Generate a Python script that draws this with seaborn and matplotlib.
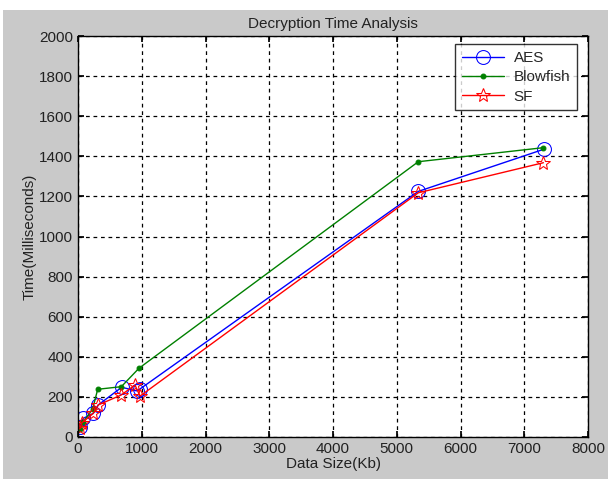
import matplotlib
matplotlib.use('Agg')
import matplotlib.pyplot as plt
from matplotlib.patches import Rectangle
import seaborn as sns
import pandas as pd

# values
aes_size = [31, 83, 240, 318, 685, 920, 975, 5338, 7315]
aes_time = [51, 93, 118, 160, 248, 230, 240, 1225, 1436]

blowfish_size = [31, 83, 230, 309, 680, 957, 5338, 7300]
blowfish_time = [40, 75, 140, 238, 251, 343, 1373, 1443]

sf_size = [31, 58, 240, 318, 675, 894, 973, 5338, 7300]
sf_time = [45, 70, 118, 160, 209, 259, 204, 1218, 1368]

x_ticks = [0, 1000, 2000, 3000, 4000, 5000, 6000, 7000, 8000]
y_ticks = [0, 200, 400, 600, 800, 1000, 1200, 1400, 1600, 1800, 2000]

sns.set_theme(style="white")
plt.rcParams['font.family'] = ['Liberation Sans', 'DejaVu Sans']

fig = plt.figure(figsize=(6.08, 4.79), dpi=100)
fig.patch.set_facecolor('white')
fig.patches.append(Rectangle((3 / 608, 0), 605 / 608, 469 / 479,
                             transform=fig.transFigure, facecolor='#c9c9c9',
                             edgecolor='none', zorder=-10))
ax = fig.add_axes([78 / 608, 42 / 479, 510 / 608, 401 / 479])
ax.set_facecolor('white')

series = [
    ('AES', aes_size, aes_time, 'blue', dict(marker='o', markersize=10,
                                            markerfacecolor='none',
                                            markeredgecolor='blue')),
    ('Blowfish', blowfish_size, blowfish_time, '#008000', dict(marker='.', markersize=7,
                                                              markeredgecolor='#008000')),
    ('SF', sf_size, sf_time, 'red', dict(marker='*', markersize=10,
                                        markerfacecolor='none',
                                        markeredgecolor='red')),
]
for name, xs, ys, color, mk in series:
    df = pd.DataFrame({'Data Size': xs, 'Time': ys})
    sns.lineplot(data=df, x='Data Size', y='Time', sort=False, estimator=None,
                 color=color, linewidth=1, label=name, ax=ax, **mk)

ax.set_xlim(0, 8000)
ax.set_ylim(0, 2000)
ax.set_xticks(x_ticks)
ax.set_yticks(y_ticks)
ax.grid(True, color='black', linestyle=(0, (3, 3)), linewidth=0.9)
for s in ax.spines.values():
    s.set_color('black')
    s.set_linewidth(1)
ax.tick_params(direction='in', length=4, color='black', labelsize=11,
               labelcolor='#222222', top=True, right=True, bottom=True, left=True)

ax.set_title('Decryption Time Analysis', fontsize=11, color='#222222', pad=6)
ax.set_xlabel('Data Size(Kb)', fontsize=11, color='#222222', labelpad=1)
ax.set_ylabel('Time(Milliseconds)', fontsize=11, color='#222222', labelpad=2)

leg = ax.legend(loc='upper right', bbox_to_anchor=(1 - 11 / 510, 1 - 8 / 401),
                borderaxespad=0, fontsize=11, frameon=True, fancybox=False,
                handlelength=2.8, borderpad=0.45, labelspacing=0.35,
                handletextpad=0.6)
leg.get_frame().set_edgecolor('black')
leg.get_frame().set_linewidth(1)

fig.savefig('out.png', dpi=100)
